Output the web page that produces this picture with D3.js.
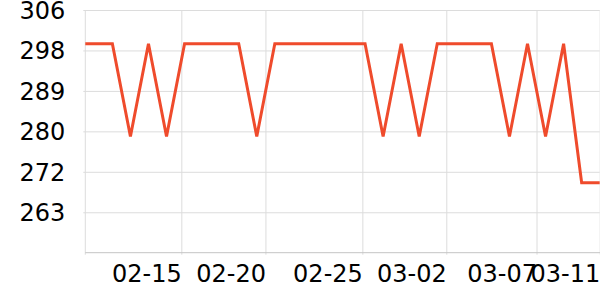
<!DOCTYPE html>
<html>
<head>
<meta charset="utf-8">
<script src="https://cdn.jsdelivr.net/npm/d3@7/dist/d3.min.js"></script>
<style>
  html, body { margin: 0; padding: 0; background: #fff; }
  svg { display: block; }
  text { font-family: "DejaVu Sans", sans-serif; }
</style>
</head>
<body>
<svg id="chart" width="600" height="300"></svg>
<script>
// ---- data ----
const H = 298.9, L = 279.4, E = 269.7;
const values = [H,H,H,L,H,L,H,H,H,H,L,H,H,H,H,H,H,L,H,L,H,H,H,H,L,H,L,H,E,E];
const yTickValues = [306, 297.5, 289, 280.5, 272, 263.5];
const yTickLabels = ["306", "298", "289", "280", "272", "263"];
const xTickPositions = [5.82, 10.48, 15.85, 20.5, 25.5, 29];
const xTickLabels = ["02-15", "02-20", "02-25", "03-02", "03-07", "03-11"];
const yDomain = [255, 306];
const xDomain = [0.5, 29];

// ---- layout ----
const margin = { left: 85.3, top: 10, right: 0.3, bottom: 47.3 };
const W = 600 - margin.left - margin.right;
const Hh = 300 - margin.top - margin.bottom;

const svg = d3.select("#chart");
const g = svg.append("g").attr("transform", `translate(${margin.left},${margin.top})`);

const x = d3.scaleLinear().domain(xDomain).range([0, W]);
const y = d3.scaleLinear().domain(yDomain).range([Hh, 0]);

// horizontal gridlines + y axis
const yAxis = d3.axisLeft(y).tickValues(yTickValues)
  .tickFormat((d, i) => yTickLabels[i]).tickSize(0);
const yg = g.append("g").call(yAxis);
yg.select(".domain").remove();
yg.selectAll(".tick line").attr("x1", -2).attr("x2", W).attr("stroke", "#dcdcdc").attr("stroke-width", 1);
yg.selectAll(".tick text").attr("x", -20).attr("dy", "0.35em")
  .attr("font-size", 24).attr("fill", "#000").attr("font-family", "DejaVu Sans, sans-serif");

// vertical gridlines + x axis
const xAxis = d3.axisBottom(x).tickValues(xTickPositions)
  .tickFormat((d, i) => xTickLabels[i]).tickSize(0);
const xg = g.append("g").attr("transform", `translate(0,${Hh})`).call(xAxis);
xg.select(".domain").remove();
xg.selectAll(".tick line").attr("y1", 2).attr("y2", -Hh).attr("stroke", "#dcdcdc").attr("stroke-width", 1);
xg.selectAll(".tick text").attr("y", 29).attr("dy", 0).attr("text-anchor", "end")
  .attr("font-size", 24).attr("fill", "#000").attr("font-family", "DejaVu Sans, sans-serif");

// left vertical line
g.append("line").attr("x1", 0).attr("x2", 0).attr("y1", 0).attr("y2", Hh + 2)
  .attr("stroke", "#dcdcdc").attr("stroke-width", 1);
// bottom axis line
g.append("line").attr("x1", 0).attr("x2", W + 1).attr("y1", Hh).attr("y2", Hh)
  .attr("stroke", "#c4c4c4").attr("stroke-width", 1);

// clip
svg.append("defs").append("clipPath").attr("id", "clip")
  .append("rect").attr("x", 0).attr("y", -5).attr("width", W + 1).attr("height", Hh + 10);

const line = d3.line().x((d, i) => x(i)).y(d => y(d));
g.append("path").datum(values)
  .attr("clip-path", "url(#clip)")
  .attr("fill", "none").attr("stroke", "#ef4b2c").attr("stroke-width", 3)
  .attr("stroke-linejoin", "miter")
  .attr("d", line);
</script>
</body>
</html>
